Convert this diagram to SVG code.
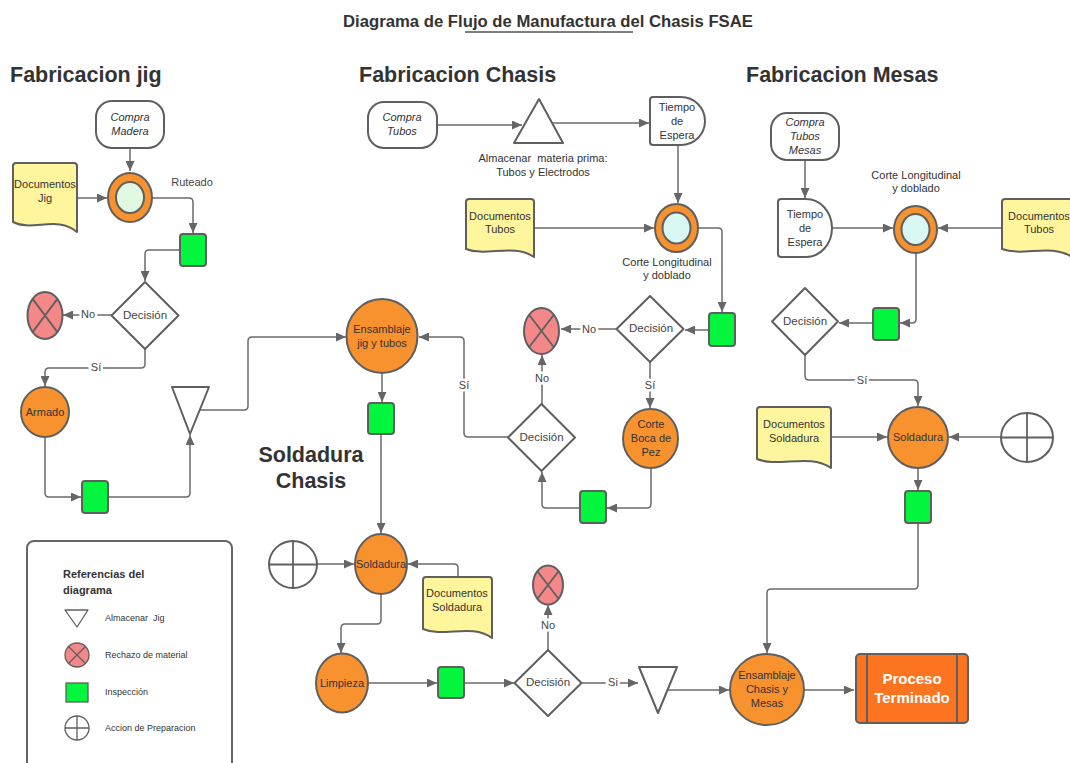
<svg xmlns="http://www.w3.org/2000/svg" width="1070" height="763" viewBox="0 0 1070 763">
<defs>
<marker id="arr" markerUnits="userSpaceOnUse" markerWidth="10" markerHeight="9" viewBox="0 0 10 9" refX="10" refY="4.5" orient="auto"><path d="M0,0 L10,4.5 L0,9 z" fill="#666"/></marker>
<style>
.c{fill:none;stroke:#6a6a6a;stroke-width:1.5;marker-end:url(#arr)}
.s{stroke:#5f5f5f;stroke-width:2;stroke-linejoin:round}
.or{fill:#f7922f}
.rj{fill:#f48787}
.gr{fill:#04f53e}
.doc{fill:#fff59d}
.wh{fill:#fff}
.x{stroke:#5f5f5f;stroke-width:1.8;fill:none}
text{font-family:"Liberation Sans",Arial,sans-serif;fill:#333;}
.t{font-size:11px;text-anchor:middle;dominant-baseline:central}
.i{font-style:italic}
.d{font-size:11.5px;text-anchor:middle;dominant-baseline:central;fill:#444}
.lb{font-size:11px;text-anchor:middle;dominant-baseline:central;fill:#444;paint-order:stroke;stroke:#fff;stroke-width:5px}
.h{font-size:21.5px;font-weight:bold}
.lg{font-size:9px;dominant-baseline:central;fill:#333}
</style>
</defs>
<rect width="1070" height="763" fill="#fff"/>

<g id="titles">
<text x="548" y="27" style="font-size:16.7px;font-weight:bold" text-anchor="middle">Diagrama de Flujo de Manufactura del Chasis FSAE</text>
<line x1="465" y1="32" x2="633" y2="32" stroke="#555" stroke-width="1.5"/>
<text class="h" x="10" y="82">Fabricacion jig</text>
<text class="h" x="359" y="82">Fabricacion Chasis</text>
<text class="h" x="746" y="82">Fabricacion Mesas</text>
<text class="h" x="311" y="462" text-anchor="middle">Soldadura</text>
<text class="h" x="311" y="488" text-anchor="middle">Chasis</text>
</g>

<g id="connectors">
<path class="c" d="M130,148 L130,171"/>
<path class="c" d="M77,198 L107,198"/>
<path class="c" d="M152,198 L189,198 Q193,198 193,202 L193,233"/>
<path class="c" d="M180,250 L149,250 Q145,250 145,254 L145,281"/>
<path class="c" d="M112,315 L63,315"/>
<path class="c" d="M145,349 L145,364 Q145,368 141,368 L49,368 Q45,368 45,372 L45,386"/>
<path class="c" d="M45,437 L45,493 Q45,497 49,497 L81,497"/>
<path class="c" d="M108,497 L186,497 Q190,497 190,493 L190,435"/>
<path class="c" d="M200,410 L244,410 Q248,410 248,406 L248,341 Q248,337 252,337 L346,337"/>
<path class="c" d="M437,125 L522,125"/>
<path class="c" d="M552,123 L649,123"/>
<path class="c" d="M678,145 L678,203"/>
<path class="c" d="M534,228 L654,228"/>
<path class="c" d="M698,228 L718,228 Q722,228 722,232 L722,312"/>
<path class="c" d="M709,330 L685,330"/>
<path class="c" d="M617,329 L561,329"/>
<path class="c" d="M650,362 L650,408"/>
<path class="c" d="M651,468 L651,504 Q651,508 647,508 L607,508"/>
<path class="c" d="M580,508 L546,508 Q542,508 542,504 L542,472"/>
<path class="c" d="M542,404 L542,355"/>
<path class="c" d="M508,437 L468,437 Q464,437 464,433 L464,341 Q464,337 460,337 L419,337"/>
<path class="c" d="M382,373 L382,402"/>
<path class="c" d="M381,434 L381,533"/>
<path class="c" d="M317,564 L354,564"/>
<path class="c" d="M458,577 L458,568 Q458,564 454,564 L408,564"/>
<path class="c" d="M381,594 L381,620 Q381,624 377,624 L345,624 Q341,624 341,628 L341,653"/>
<path class="c" d="M368,683 L437,683"/>
<path class="c" d="M464,683 L514,683"/>
<path class="c" d="M548,650 L548,605"/>
<path class="c" d="M582,683 L638,683"/>
<path class="c" d="M668,690 L729,690"/>
<path class="c" d="M804,690 L854,690"/>
<path class="c" d="M805,160 L805,198"/>
<path class="c" d="M832,228 L893,228"/>
<path class="c" d="M1002,228 L938,228"/>
<path class="c" d="M916,253 L916,319 Q916,323 912,323 L900,323"/>
<path class="c" d="M873,323 L839,323"/>
<path class="c" d="M805,355 L805,376 Q805,380 809,380 L914,380 Q918,380 918,384 L918,406"/>
<path class="c" d="M831,437 L887,437"/>
<path class="c" d="M1001,437 L949,437"/>
<path class="c" d="M918,468 L918,490"/>
<path class="c" d="M918,523 L918,585 Q918,589 914,589 L771,589 Q767,589 767,593 L767,653"/>
<text class="lb" x="88" y="314">No</text>
<text class="lb" x="96" y="367">Sí</text>
<text class="lb" x="589" y="329">No</text>
<text class="lb" x="650" y="385">Sí</text>
<text class="lb" x="542" y="378">No</text>
<text class="lb" x="464" y="385">Sí</text>
<text class="lb" x="548" y="625">No</text>
<text class="lb" x="613" y="682">Si</text>
<text class="lb" x="862" y="380">Sí</text>
</g>

<g id="compra-madera">
<rect class="s wh" x="96" y="101" width="68" height="47" rx="16"/>
<text class="t i" x="130" y="117">Compra</text>
<text class="t i" x="130" y="131">Madera</text>
</g>
<g id="doc-jig">
<path class="s doc" d="M13,166 Q13,163 16,163 L74,163 Q77,163 77,166 L77,232 C58,215 32,232 13,222 Z"/>
<text class="t" x="45" y="184">Documentos</text>
<text class="t" x="45" y="198">Jig</text>
</g>
<g id="ruteado">
<ellipse class="s or" cx="130" cy="197.5" rx="22" ry="24.5"/>
<ellipse class="s" cx="130" cy="197.5" rx="14" ry="15.5" fill="#e1f9e1"/>
<text class="d" x="192" y="182" style="font-size:11px">Ruteado</text>
</g>
<g id="insp-jig-1"><rect class="s gr" x="180" y="234" width="26" height="32" rx="3"/></g>
<g id="decision-jig">
<polygon class="s wh" points="145,282 178.5,315.5 145,349 111.5,315.5"/>
<text class="d" x="145" y="315">Decisión</text>
</g>
<g id="rechazo-jig">
<ellipse class="s rj" cx="45" cy="315.5" rx="17.5" ry="23.5"/>
<path class="x" d="M32.6,298.9 L57.4,332.1 M57.4,298.9 L32.6,332.1"/>
</g>
<g id="armado">
<ellipse class="s or" cx="45" cy="412" rx="24" ry="25"/>
<text class="t" x="45" y="412">Armado</text>
</g>
<g id="insp-jig-2"><rect class="s gr" x="82" y="481" width="26" height="32" rx="3"/></g>
<g id="almacenar-jig"><polygon class="s wh" points="172,387 209,387 190,434"/></g>

<g id="compra-tubos">
<rect class="s wh" x="368" y="102" width="69" height="46" rx="16"/>
<text class="t i" x="402" y="117">Compra</text>
<text class="t i" x="402" y="131">Tubos</text>
</g>
<g id="almacenar-mp">
<polygon class="s wh" points="539,99 563,143 514,143"/>
<text class="t" x="543" y="158" xml:space="preserve">Almacenar  materia prima:</text>
<text class="t" x="543" y="172">Tubos y Electrodos</text>
</g>
<g id="tiempo-chasis">
<path class="s wh" d="M653,97 L681,97 A24,24 0 0 1 681,145 L653,145 Q650,145 650,142 L650,100 Q650,97 653,97 Z"/>
<text class="t" x="677" y="107">Tiempo</text>
<text class="t" x="677" y="121">de</text>
<text class="t" x="677" y="135">Espera</text>
</g>
<g id="doc-tubos">
<path class="s doc" d="M466,202 Q466,199 469,199 L531,199 Q534,199 534,202 L534,257 C514,243 486,257 466,249 Z"/>
<text class="t" x="500" y="216">Documentos</text>
<text class="t" x="500" y="229">Tubos</text>
</g>
<g id="corte-chasis">
<ellipse class="s or" cx="676.5" cy="228" rx="21.5" ry="24"/>
<ellipse class="s" cx="676.5" cy="228" rx="14" ry="15.5" fill="#d9f7f3"/>
<text class="t" x="667" y="262">Corte Longitudinal</text>
<text class="t" x="667" y="275">y doblado</text>
</g>
<g id="insp-chasis-1"><rect class="s gr" x="709" y="313" width="26" height="33" rx="3"/></g>
<g id="decision-chasis-1">
<polygon class="s wh" points="650,296 683.5,329 650,362 616.5,329"/>
<text class="d" x="651" y="328">Decisión</text>
</g>
<g id="rechazo-chasis">
<ellipse class="s rj" cx="541.5" cy="331" rx="17.5" ry="23"/>
<path class="x" d="M529.1,314.7 L553.9,347.3 M553.9,314.7 L529.1,347.3"/>
</g>
<g id="boca-pez">
<ellipse class="s or" cx="650.5" cy="438.5" rx="27.5" ry="29.5"/>
<text class="t" x="651" y="424">Corte</text>
<text class="t" x="651" y="438">Boca de</text>
<text class="t" x="651" y="452">Pez</text>
</g>
<g id="insp-chasis-2"><rect class="s gr" x="580" y="491" width="26" height="32" rx="3"/></g>
<g id="decision-chasis-2">
<polygon class="s wh" points="541.5,404 575,437.5 541.5,471 508,437.5"/>
<text class="d" x="541.5" y="437">Decisión</text>
</g>
<g id="ensamblaje-jig">
<ellipse class="s or" cx="382" cy="336" rx="35.5" ry="37"/>
<text class="t" x="382" y="329">Ensamblaje</text>
<text class="t" x="382" y="343">jig y tubos</text>
</g>
<g id="insp-ens"><rect class="s gr" x="368" y="403" width="26" height="31" rx="3"/></g>

<g id="accion-chasis">
<ellipse class="s wh" cx="293" cy="564.5" rx="24" ry="23.5"/>
<path class="x" d="M269,564.5 L317,564.5 M293,541 L293,588"/>
</g>
<g id="soldadura-chasis">
<ellipse class="s or" cx="381" cy="564" rx="26" ry="30"/>
<text class="t" x="381" y="564">Soldadura</text>
</g>
<g id="doc-sold-chasis">
<path class="s doc" d="M423,580 Q423,577 426,577 L489,577 Q492,577 492,580 L492,638 C471,623 444,638 423,629 Z"/>
<text class="t" x="457" y="593">Documentos</text>
<text class="t" x="457" y="607">Soldadura</text>
</g>
<g id="limpieza">
<ellipse class="s or" cx="342" cy="683" rx="26" ry="29.5"/>
<text class="t" x="342" y="683">Limpieza</text>
</g>
<g id="insp-limpieza"><rect class="s gr" x="438" y="667" width="26" height="31" rx="3"/></g>
<g id="decision-final">
<polygon class="s wh" points="548,650 581.5,683 548,716 514.5,683"/>
<text class="d" x="548" y="682">Decisión</text>
</g>
<g id="rechazo-final">
<ellipse class="s rj" cx="548" cy="585" rx="15" ry="19.5"/>
<path class="x" d="M537.4,571.2 L558.6,598.8 M558.6,571.2 L537.4,598.8"/>
</g>
<g id="almacenar-final"><polygon class="s wh" points="639,667 677,667 658,713"/></g>
<g id="ensamblaje-final">
<ellipse class="s or" cx="767" cy="689.5" rx="37" ry="35.5"/>
<text class="t" x="767" y="675">Ensamblaje</text>
<text class="t" x="767" y="689">Chasis y</text>
<text class="t" x="767" y="703">Mesas</text>
</g>
<g id="proceso-terminado">
<rect class="s" x="856" y="654" width="112" height="69" rx="4" fill="#fc7320"/>
<line class="s" x1="867" y1="654" x2="867" y2="723"/>
<line class="s" x1="957" y1="654" x2="957" y2="723"/>
<text x="912" y="678" text-anchor="middle" dominant-baseline="central" style="font-size:15px;font-weight:bold;fill:#fff">Proceso</text>
<text x="912" y="697" text-anchor="middle" dominant-baseline="central" style="font-size:15px;font-weight:bold;fill:#fff">Terminado</text>
</g>

<g id="compra-mesas">
<rect class="s wh" x="771" y="113" width="68" height="47" rx="16"/>
<text class="t i" x="805" y="122">Compra</text>
<text class="t i" x="805" y="136">Tubos</text>
<text class="t i" x="805" y="150">Mesas</text>
</g>
<g id="tiempo-mesas">
<path class="s wh" d="M781,199 L806,199 A26,29 0 0 1 806,257 L781,257 Q778,257 778,254 L778,202 Q778,199 781,199 Z"/>
<text class="t" x="805" y="214">Tiempo</text>
<text class="t" x="805" y="228">de</text>
<text class="t" x="805" y="242">Espera</text>
</g>
<g id="corte-mesas">
<ellipse class="s or" cx="915.5" cy="229.5" rx="21.5" ry="23.5"/>
<ellipse class="s" cx="915.5" cy="229.5" rx="14" ry="15.5" fill="#d9f7f3"/>
<text class="t" x="916" y="175">Corte Longitudinal</text>
<text class="t" x="916" y="188">y doblado</text>
</g>
<g id="doc-tubos-mesas">
<path class="s doc" d="M1002,202 Q1002,199 1005,199 L1069,199 Q1072,199 1072,202 L1072,257 C1051,243 1023,257 1002,249 Z"/>
<text class="t" x="1039" y="216">Documentos</text>
<text class="t" x="1039" y="229">Tubos</text>
</g>
<g id="insp-mesas-1"><rect class="s gr" x="873" y="308" width="26" height="32" rx="3"/></g>
<g id="decision-mesas">
<polygon class="s wh" points="805,288 838,321.5 805,355 772,321.5"/>
<text class="d" x="805" y="321">Decisión</text>
</g>
<g id="doc-sold-mesas">
<path class="s doc" d="M757,410 Q757,407 760,407 L828,407 Q831,407 831,410 L831,468 C809,453 779,468 757,459 Z"/>
<text class="t" x="794" y="424">Documentos</text>
<text class="t" x="794" y="438">Soldadura</text>
</g>
<g id="soldadura-mesas">
<ellipse class="s or" cx="918" cy="437.5" rx="30" ry="30.5"/>
<text class="t" x="918" y="437">Soldadura</text>
</g>
<g id="accion-mesas">
<ellipse class="s wh" cx="1027" cy="437.5" rx="26" ry="24.5"/>
<path class="x" d="M1001,437.5 L1053,437.5 M1027,413 L1027,462"/>
</g>
<g id="insp-mesas-2"><rect class="s gr" x="905" y="491" width="26" height="32" rx="3"/></g>

<g id="legend">
<rect x="27" y="541" width="205" height="240" rx="7" fill="#fff" stroke="#666" stroke-width="2"/>
<text x="63" y="578" style="font-size:11px;font-weight:bold">Referencias del</text>
<text x="63" y="594" style="font-size:11px;font-weight:bold">diagrama</text>
<polygon points="65,610 88,610 77,627" fill="#fff" stroke="#5f5f5f" stroke-width="1.3" stroke-linejoin="round"/>
<text class="lg" x="105" y="618" xml:space="preserve">Almacenar  Jig</text>
<circle cx="77" cy="655" r="12" class="rj" stroke="#5f5f5f" stroke-width="1.3"/>
<path d="M68.5,646.5 L85.5,663.5 M85.5,646.5 L68.5,663.5" stroke="#5f5f5f" stroke-width="1.3"/>
<text class="lg" x="105" y="655">Rechazo de material</text>
<rect x="66" y="683" width="22" height="19" class="gr" stroke="#5f5f5f" stroke-width="1.3"/>
<text class="lg" x="105" y="692">Inspección</text>
<circle cx="77" cy="728" r="12" fill="#fff" stroke="#5f5f5f" stroke-width="1.3"/>
<path d="M65,728 L89,728 M77,716 L77,740" stroke="#5f5f5f" stroke-width="1.3"/>
<text class="lg" x="105" y="728">Accion de Preparacion</text>
</g>
</svg>
